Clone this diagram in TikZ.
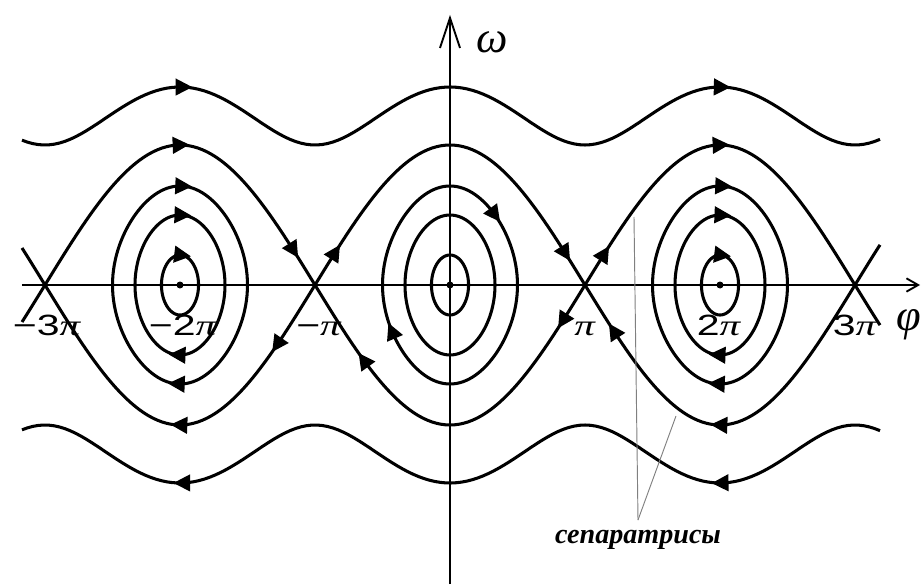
\documentclass[tikz,border=0pt]{standalone}
\usepackage{fontspec}
\setmainfont{Liberation Serif}
\newfontfamily\numf{Liberation Sans}
\usetikzlibrary{arrows.meta,decorations.markings}

\newcommand{\pars}{
\def\samp{140}   % separatrix height over phi=0
\def\rot{99}     % rotation: omega = \rot*sqrt(3+cos phi)
\def\aa{30}  \def\ka{0.214}
\def\ab{70}  \def\kb{0.5}
\def\ac{99}  \def\kc{0.707}
}
\newcommand{\scl}{0.03}
\newcommand{\lab}[1]{\scalebox{1.4}[1]{\fontsize{25}{30}\selectfont #1}}

\tikzset{
  traj/.style={line width=2.6pt},
  axisline/.style={line width=1.6pt},
  pointer/.style={gray, line width=0.8pt},
  lbl/.style={inner sep=0pt, anchor=base},
  fwd/.style={postaction={decorate,decoration={markings,
      mark=at position #1 with {\fill (-0.22cm,-0.26cm) -- (0.28cm,0) -- (-0.22cm,0.26cm) -- cycle;}}}},
  bwd/.style={postaction={decorate,decoration={markings,
      mark=at position #1 with {\fill (0.22cm,-0.26cm) -- (-0.28cm,0) -- (0.22cm,0.26cm) -- cycle;}}}},
}

\begin{document}
\begin{tikzpicture}[x=\scl cm,y=\scl cm]
      \pars
      \useasboundingbox (-450,-299) rectangle (472,285);
%
      \draw[axisline,-{Straight Barb[length=0.35cm,width=0.4cm]}] (-428,0) -- (470,0);
      \draw[axisline,-{Straight Barb[length=0.9cm,width=0.6cm]}] (0,-299) -- (0,270);
%
      % closed orbits round -2pi and 2pi
      \foreach \c in {-270,270}{
        \draw[traj,fwd=0.26] plot[domain=-90:270,samples=121,variable=\u]
          ({\c+1.5*asin(\ka*sin(\u))},{\aa*cos(\u)}) -- cycle;
        \draw[traj,fwd=0.255,fwd=0.755] plot[domain=-90:270,samples=121,variable=\u]
          ({\c+1.5*asin(\kb*sin(\u))},{\ab*cos(\u)}) -- cycle;
        \draw[traj,fwd=0.255,fwd=0.755] plot[domain=-90:270,samples=121,variable=\u]
          ({\c+1.5*asin(\kc*sin(\u))},{\ac*cos(\u)}) -- cycle;
      }
      % closed orbits round 0
      \draw[traj] plot[domain=-90:270,samples=121,variable=\u]
        ({1.5*asin(\ka*sin(\u))},{\aa*cos(\u)}) -- cycle;
      \draw[traj] plot[domain=-90:270,samples=121,variable=\u]
        ({1.5*asin(\kb*sin(\u))},{\ab*cos(\u)}) -- cycle;
      \draw[traj,fwd=0.355,fwd=0.908] plot[domain=-90:270,samples=121,variable=\u]
        ({1.5*asin(\kc*sin(\u))},{\ac*cos(\u)}) -- cycle;
      \foreach \c in {-270,0,270}
        \fill (\c,0) circle[radius=0.105cm];
%
      % separatrices, upper
      \draw[traj,fwd=0.5,fwd=0.897] plot[domain=-405:-135,samples=61] (\x,{\samp*cos((\x+270)/1.5)});
      \draw[traj,fwd=0.094,fwd=0.906] plot[domain=-135:135,samples=61] (\x,{\samp*cos(\x/1.5)});
      \draw[traj,fwd=0.09,fwd=0.5] plot[domain=135:405,samples=61] (\x,{\samp*cos((\x-270)/1.5)});
      % separatrices, lower
      \draw[traj,bwd=0.5,bwd=0.826] plot[domain=-405:-135,samples=61] (\x,{-\samp*cos((\x+270)/1.5)});
      \draw[traj,bwd=0.224,bwd=0.897] plot[domain=-135:135,samples=61] (\x,{-\samp*cos(\x/1.5)});
      \draw[traj,bwd=0.136,bwd=0.5] plot[domain=135:405,samples=61] (\x,{-\samp*cos((\x-270)/1.5)});
      % short ends at -3pi and 3pi
      \draw[traj] plot[domain=-428:-405,samples=9] (\x,{\samp*cos((\x+540)/1.5)});
      \draw[traj] plot[domain=-428:-405,samples=9] (\x,{-\samp*cos((\x+540)/1.5)});
      \draw[traj] plot[domain=405:430,samples=9] (\x,{\samp*cos((\x-540)/1.5)});
      \draw[traj] plot[domain=405:430,samples=9] (\x,{-\samp*cos((\x-540)/1.5)});
%
      % rotation
      \draw[traj,fwd=0.186,fwd=0.816] plot[domain=-428:430,samples=161] (\x,{\rot*sqrt(3+cos(\x/0.75))});
      \draw[traj,bwd=0.186,bwd=0.816] plot[domain=-428:430,samples=161] (\x,{-\rot*sqrt(3+cos(\x/0.75))});
%
      \node[lbl] (mthree) at (-403,-50) {\lab{{\numf −3}\textit{π}}};
      \node[lbl] (mtwo)   at (-267,-50) {\lab{{\numf −2}\textit{π}}};
      \node[lbl] (mone)   at (-131,-50) {\lab{{\numf −}\textit{π}}};
      \node[lbl] (pone)   at (135,-50)  {\lab{\textit{π}}};
      \node[lbl] (ptwo)   at (269,-50)  {\lab{{\numf 2}\textit{π}}};
      \node[lbl] (pthree) at (405,-50)  {\lab{{\numf 3}\textit{π}}};
      \node[inner sep=0pt] (om) at (42,243) {\fontsize{38}{40}\selectfont\textit{ω}};
      \node[inner sep=0pt,anchor=east] (ph) at (471,-40) {\fontsize{38}{40}\selectfont\textit{φ}};
%
      \node[anchor=north,inner sep=1pt,outer sep=8pt] (sep) at (188,-235)
        {\fontsize{24}{28}\selectfont\bfseries\itshape сепаратрисы};
      \coordinate (sepup) at (184,68);
      \coordinate (seplow) at (226,-131);
      \draw[pointer] (sep.north) -- (sepup);
      \draw[pointer] (sep.north) -- (seplow);
\end{tikzpicture}
\end{document}
